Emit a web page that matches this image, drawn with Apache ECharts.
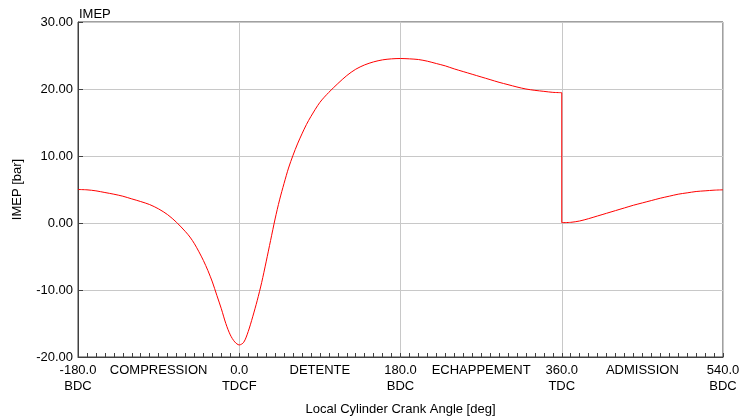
<!DOCTYPE html>
<html>
<head>
<meta charset="utf-8">
<script src="https://cdn.jsdelivr.net/npm/echarts@6/dist/echarts.min.js"></script>
<style>
  html, body { margin: 0; padding: 0; background: #ffffff; }
  #chart { width: 744px; height: 419px; }
</style>
</head>
<body>
<div id="chart"></div>
<script>
// Crank angle samples [deg]; 360 appears twice for the step at TDC
const angleDeg = [
  -180, -170, -160, -150, -140, -130, -120, -110, -100, -90, -80, -70,
  -60, -55, -50, -45, -40, -35, -30, -25, -20, -15, -10, -5,
  0, 5, 10, 15, 20, 25, 30, 35, 40, 45, 50, 55, 60, 65, 70, 75, 80,
  90, 100, 110, 120, 130, 140, 150, 160, 170, 180, 190, 200, 210,
  220, 230, 240, 250, 260, 270, 280, 290, 300, 310, 320, 330,
  340, 350, 360, 360, 370, 380, 390, 400, 410, 420, 430, 440,
  450, 460, 470, 480, 490, 500, 510, 520, 530, 540
];

// IMEP [bar] at each crank angle
const imepBar = [
  5.0, 4.95, 4.8, 4.55, 4.3, 4.0, 3.6, 3.2, 2.75, 2.1, 1.25, 0.1,
  -1.3, -2.1, -3.1, -4.3, -5.6, -7.1, -8.8, -10.8, -12.8, -15.0, -16.7, -17.75,
  -18.2, -17.8, -16.2, -14.0, -11.6, -8.9, -5.8, -2.6, 0.6, 3.45, 5.9, 8.2, 10.1, 11.8, 13.3, 14.7, 15.9,
  18.0, 19.5, 20.8, 22.0, 22.95, 23.6, 24.05, 24.35, 24.5, 24.55, 24.5, 24.4, 24.15,
  23.8, 23.45, 23.0, 22.6, 22.2, 21.8, 21.4, 21.0, 20.65, 20.3, 20.0, 19.8,
  19.65, 19.5, 19.45, 0.05, 0.1, 0.3, 0.65, 1.05, 1.45, 1.85, 2.25, 2.65,
  3.0, 3.35, 3.7, 4.0, 4.3, 4.5, 4.7, 4.8, 4.9, 4.95
];

// Labels under the crank-angle axis, every 90 deg
const tickAngles = [-180, -90, 0, 90, 180, 270, 360, 450, 540];
const tickLabels = [
  '-180.0\nBDC', 'COMPRESSION', '0.0\nTDCF', 'DETENTE', '180.0\nBDC',
  'ECHAPPEMENT', '360.0\nTDC', 'ADMISSION', '540.0\nBDC'
];

const points = angleDeg.map((a, i) => [a, imepBar[i]]);
// split at the repeated angle: smooth branches on each side, straight step between
const stepIdx = angleDeg.findIndex((a, i) => i > 0 && a === angleDeg[i - 1]);
const branchA = points.slice(0, stepIdx);
const branchB = points.slice(stepIdx);
const stepSeg = points.slice(stepIdx - 1, stepIdx + 1);

const FONT = 'Liberation Sans, Arial, sans-serif';
const AXIS_COLOR = '#404040';
const GRID_COLOR = '#c8c8c8';
const LINE = { color: '#ff0000', width: 1 };

const chart = echarts.init(document.getElementById('chart'), null, { renderer: 'canvas' });
chart.setOption({
  animation: false,
  backgroundColor: '#ffffff',
  title: {
    text: 'IMEP',
    left: 79,
    top: 8,
    padding: 0,
    textStyle: { fontFamily: FONT, fontSize: 13, fontWeight: 'normal', color: '#000' }
  },
  grid: {
    left: 78, right: 21, top: 22, bottom: 62,
    outerBoundsMode: 'none',
    containLabel: false,
    show: true, borderColor: AXIS_COLOR, borderWidth: 1, backgroundColor: 'transparent'
  },
  xAxis: [
    {
      type: 'value',
      min: -180, max: 540, interval: 90,
      name: 'Local Cylinder Crank Angle [deg]',
      nameLocation: 'middle',
      nameGap: 46,
      nameTextStyle: { fontFamily: FONT, fontSize: 13, color: '#000' },
      axisLine: { show: true, onZero: false, lineStyle: { color: AXIS_COLOR, width: 1 } },
      axisTick: { show: true, inside: true, length: 4, lineStyle: { color: AXIS_COLOR } },
      minorTick: { show: true, splitNumber: 9, length: 4, lineStyle: { color: AXIS_COLOR } },
      splitLine: { show: false },
      axisLabel: {
        show: true,
        margin: 5,
        fontFamily: FONT, fontSize: 13, color: '#000', lineHeight: 16,
        showMinLabel: true, showMaxLabel: true, hideOverlap: false,
        formatter: function (v) {
          const k = tickAngles.indexOf(Math.round(v));
          return k >= 0 ? tickLabels[k] : '';
        }
      }
    },
    {
      // vertical reference lines at TDCF, BDC and TDC
      type: 'value',
      min: -180, max: 540, interval: 180,
      position: 'bottom',
      axisLine: { show: false },
      axisTick: { show: false },
      axisLabel: { show: false },
      splitLine: { show: true, lineStyle: { color: GRID_COLOR, width: 1 } }
    }
  ],
  yAxis: {
    type: 'value',
    min: -20, max: 30, interval: 10,
    name: 'IMEP [bar]',
    nameLocation: 'middle',
    nameGap: 54,
    nameRotate: 90,
    nameTextStyle: { fontFamily: FONT, fontSize: 13, color: '#000' },
    axisLine: { show: true, onZero: false, lineStyle: { color: AXIS_COLOR, width: 1 } },
    axisTick: { show: true, inside: true, length: 5, lineStyle: { color: AXIS_COLOR } },
    splitLine: { show: true, lineStyle: { color: GRID_COLOR, width: 1 } },
    axisLabel: {
      margin: 5,
      fontFamily: FONT, fontSize: 13, color: '#000',
      formatter: v => v.toFixed(2)
    }
  },
  series: [
    { type: 'line', xAxisIndex: 0, data: branchA, showSymbol: false, symbol: 'none',
      smooth: 0.3, lineStyle: LINE, itemStyle: { color: LINE.color } },
    { type: 'line', xAxisIndex: 0, data: stepSeg, showSymbol: false, symbol: 'none',
      smooth: false, lineStyle: LINE, itemStyle: { color: LINE.color } },
    { type: 'line', xAxisIndex: 0, data: branchB, showSymbol: false, symbol: 'none',
      smooth: 0.3, lineStyle: LINE, itemStyle: { color: LINE.color } }
  ]
});
</script>
</body>
</html>
